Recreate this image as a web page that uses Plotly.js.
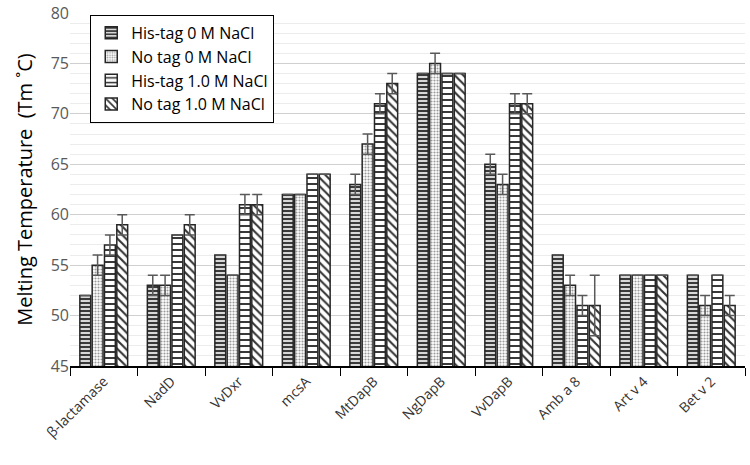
<!DOCTYPE html>
<html><head><meta charset="utf-8">
<script src="https://cdn.plot.ly/plotly-3.0.1.min.js"></script>
<style>body{margin:0;background:#fff}#chart{width:750px;height:465px}</style>
</head><body><div id="chart"></div>
<script>
var categories = ["β-lactamase","NadD","VvDxr","mcsA","MtDapB","NgDapB","VvDapB","Amb a 8","Art v 4","Bet v 2"];
var seriesNames = ["His-tag 0 M NaCl","No tag 0 M NaCl","His-tag 1.0 M NaCl","No tag 1.0 M NaCl"];
var hisTag0 = [52,53,56,62,63,74,65,56,54,54];
var noTag0  = [55,53,54,62,67,75,63,53,54,51];
var hisTag1 = [57,58,61,64,71,74,71,51,54,54];
var noTag1  = [59,59,61,64,73,74,71,51,54,51];
var errHis0 = [0,1,0,0,1,0,1,0,0,0];
var errNo0  = [1,1,0,0,1,1,1,1,0,1];
var errHis1 = [1,0,1,0,1,0,1,1,0,0];
var errNo1  = [1,1,1,0,1,0,1,3,0,1];

var values = [hisTag0, noTag0, hisTag1, noTag1];
var errs = [errHis0, errNo0, errHis1, errNo1];
var patterns = [
  {shape:"-", fgcolor:"#3a3a3a", bgcolor:"#ffffff", size:4, solidity:0.6},
  {shape:".", fgcolor:"#9a9a9a", bgcolor:"#ffffff", size:3, solidity:0.4},
  {shape:"-", fgcolor:"#222222", bgcolor:"#ffffff", size:6, solidity:0.3},
  {shape:"\\", fgcolor:"#333333", bgcolor:"#ffffff", size:6, solidity:0.35}
];
var traces = values.map(function(v,i){
  return {
    type:"bar", name:seriesNames[i], x:categories, y:v,
    marker:{color:"#ffffff", line:{color:"#262626", width:1.5}, pattern:patterns[i]},
    error_y:{type:"data", array:errs[i], visible:true, color:"#595959", thickness:1.5, width:5}
  };
});
var layout = {
  width:750, height:465,
  margin:{l:70, r:5, t:13, b:99},
  paper_bgcolor:"#fff", plot_bgcolor:"#fff",
  font:{family:"'Open Sans', Lato, sans-serif", color:"#404040"},
  barmode:"group", bargap:0.27, bargroupgap:0.12,
  showlegend:true,
  legend:{x:0.03, y:0.995, xanchor:"left", yanchor:"top", bordercolor:"#000", borderwidth:1,
          font:{size:16, color:"#000"}, bgcolor:"#fff", tracegroupgap:0},
  xaxis:{type:"category", tickson:"boundaries", ticks:"outside", ticklen:8, tickcolor:"#000",
         showline:true, linecolor:"#000", linewidth:1.5, tickangle:-45,
         tickfont:{size:14, color:"#333"}, showgrid:false},
  yaxis:{range:[45,80], dtick:5, showline:false, ticks:"", zeroline:false,
         gridcolor:"#d0d0d0", gridwidth:1,
         minor:{dtick:1, showgrid:true, gridcolor:"#ececec", gridwidth:1},
         tickfont:{size:16, color:"#595959"},
         title:{text:"Melting Temperature  (Tm ˚C)", font:{size:20, color:"#000"}, standoff:12}}
};
Plotly.newPlot("chart", traces, layout, {displayModeBar:false});
</script></body></html>
